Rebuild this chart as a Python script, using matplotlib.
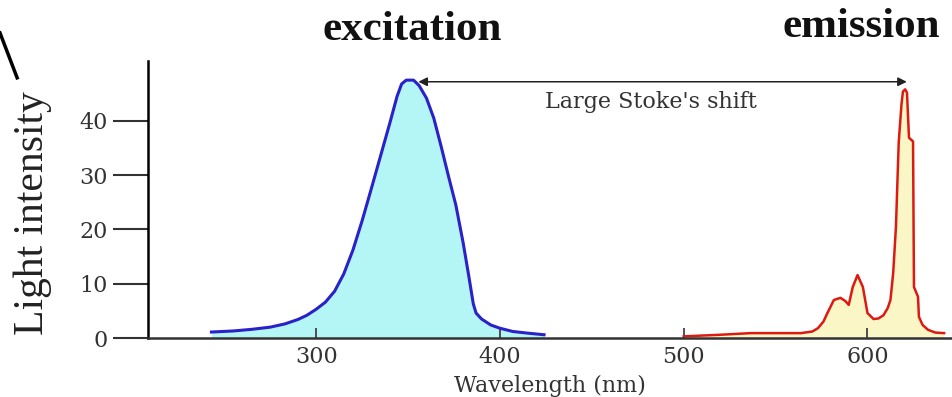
import matplotlib.pyplot as plt
from matplotlib.lines import Line2D

# excitation spectrum (nm, intensity)
exc_x = [243, 255, 265, 275, 283, 290, 295, 300, 305, 310, 315, 320, 325, 330, 335,
         340, 344, 346.5, 349, 353, 356, 360, 364, 368, 372, 376, 380, 383, 385.5,
         387, 390, 395, 400, 407, 415, 424]
exc_y = [1.1, 1.3, 1.6, 2.0, 2.6, 3.4, 4.2, 5.3, 6.6, 8.6, 11.8, 16.2, 21.6, 27.5, 33.5,
         39.5, 44.5, 46.8, 47.5, 47.5, 46.5, 44.2, 40.5, 35.3, 29.8, 24.5, 17.5, 11.5, 6.3,
         4.6, 3.5, 2.4, 1.8, 1.2, 0.9, 0.6]

# emission spectrum (nm, intensity)
em_x = [500, 520, 536.5, 550, 563.8, 570, 573, 576, 578.2, 581.7, 585.3, 588, 589.8, 592,
        594.6, 597.5, 600, 603.3, 606, 608.7, 611, 612.5, 614, 615.5, 617, 618.5, 619.3,
        620.5, 621.5, 622.6, 624.8, 625.3, 627.5, 628, 630, 633, 637, 641.7]
em_y = [0.3, 0.6, 0.9, 0.9, 0.9, 1.2, 1.8, 3.0, 4.6, 7.0, 7.4, 6.8, 6.1, 9.4,
        11.6, 9.4, 4.6, 3.5, 3.6, 4.2, 5.5, 7, 12, 20.5, 36, 43, 45.4,
        45.8, 45.2, 36.9, 36.2, 9.4, 7.6, 3.9, 2.4, 1.5, 1.0, 0.9]

xticks = [300, 400, 500, 600]
yticks = [0, 10, 20, 30, 40]
shift_start = 355.6
shift_end = 621.4
shift_level = 47.2

fig = plt.figure(figsize=(9.52, 3.97), dpi=100)
ax = fig.add_axes([0.1555, 0.1486, 0.8445, 0.6974])

ax.fill_between(exc_x, exc_y, 0, color='#b4f6f6', lw=0)
ax.plot(exc_x, exc_y, color='#2a22c8', lw=2.2)
ax.fill_between(em_x, em_y, 0, color='#fbf6c6', lw=0)
ax.plot(em_x, em_y, color='#dd1a12', lw=1.8)

ax.annotate('', xy=(shift_start, shift_level), xytext=(shift_end, shift_level),
            arrowprops=dict(arrowstyle='<|-|>', color='#222222', lw=1.1,
                            mutation_scale=13, shrinkA=0, shrinkB=0))
ax.text(482, 43.4, "Large Stoke's shift", ha='center', va='center',
        family='DejaVu Serif', fontsize=16, color='#333333')

ax.set_xlim(208.5, 646)
ax.set_ylim(0, 51)
ax.set_xticks(xticks)
ax.set_yticks(yticks)
for s in ['top', 'right']:
    ax.spines[s].set_visible(False)
ax.spines['left'].set_linewidth(1.8)
ax.spines['bottom'].set_linewidth(1.8)
ax.spines['bottom'].set_color('#333333')
ax.tick_params(axis='x', direction='in', length=7, width=1.2, pad=6,
               labelsize=16, labelcolor='#333333', color='#333333')
ax.tick_params(axis='y', direction='out', length=25, width=1.5, pad=4,
               labelsize=16, labelcolor='#333333', color='#333333')
for lab in ax.get_xticklabels() + ax.get_yticklabels():
    lab.set_family('DejaVu Serif')

ax.set_xlabel('Wavelength (nm)', family='DejaVu Serif', fontsize=16,
              color='#333333', labelpad=5)
ax.set_ylabel('Light intensity', family='Liberation Serif', fontsize=30,
              color='#222222')
ax.yaxis.set_label_coords(-0.12, 0.45)

fig.text(0.433, 0.925, 'excitation', ha='center', va='center',
         family='Liberation Serif', fontsize=31, fontweight='bold', color='#111111')
fig.text(0.905, 0.932, 'emission', ha='center', va='center',
         family='Liberation Serif', fontsize=31, fontweight='bold', color='#111111')

fig.add_artist(Line2D([0.0, 0.018], [0.917, 0.804], color='black', lw=2.5))

fig.savefig('out.png', dpi=100)
